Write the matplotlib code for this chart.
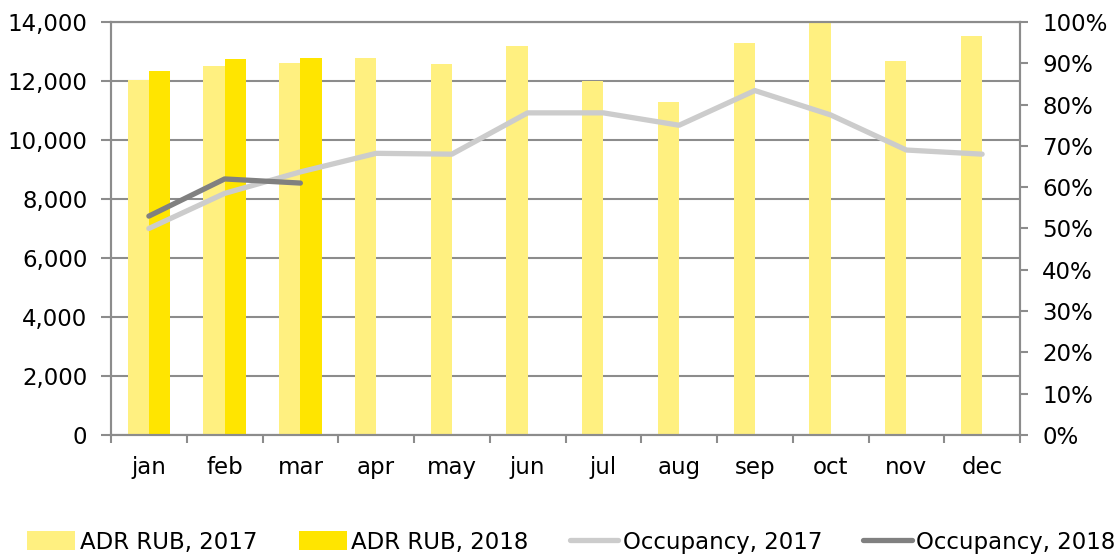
import numpy as np
import matplotlib.pyplot as plt
from matplotlib.ticker import FuncFormatter, PercentFormatter

plt.rcParams.update({
    "font.family": ["DejaVu Sans"],
    "font.size": 16.5,
})

months = ["jan", "feb", "mar", "apr", "may", "jun", "jul", "aug", "sep", "oct", "nov", "dec"]
adr_2017 = [12030, 12520, 12610, 12780, 12570, 13190, 12000, 11290, 13280, 14000, 12680, 13530]
adr_2018 = [12350, 12740, 12780]
occ_2017 = [50.0, 58.5, 63.7, 68.2, 68.0, 78.0, 78.0, 75.0, 83.4, 77.5, 69.0, 68.0]
occ_2018 = [53.0, 62.0, 61.0]

C_2017 = "#FFF080"
C_2018 = "#FFE500"
C_OCC17 = "#CCCCCC"
C_OCC18 = "#808080"
GRID = "#8C8C8C"

fig = plt.figure(figsize=(11.16, 5.57), dpi=100)
ax = fig.add_axes([111 / 1116, 1 - 435 / 557, 909 / 1116, 413 / 557])
ax2 = ax.twinx()

x = np.arange(len(months))
w = 0.28
ax.bar(x - w / 2, adr_2017, w, color=C_2017, label="ADR RUB, 2017", zorder=2)
ax.bar(x[:len(adr_2018)] + w / 2, adr_2018, w, color=C_2018, label="ADR RUB, 2018", zorder=2)

ax2.plot(x, occ_2017, color=C_OCC17, lw=3.8, solid_capstyle="round", label="Occupancy, 2017")
ax2.plot(x[:len(occ_2018)], occ_2018, color=C_OCC18, lw=3.8, solid_capstyle="round", label="Occupancy, 2018")

ax.set_xlim(-0.5, len(months) - 0.5)
ax.set_ylim(0, 14000)
ax.set_yticks(np.arange(0, 14001, 2000))
ax.yaxis.set_major_formatter(FuncFormatter(lambda v, p: f"{int(v):,}"))
ax.set_xticks(x)
ax.set_xticklabels(months)
ax.set_xticks(np.arange(-0.5, len(months), 1), minor=True)
ax.tick_params(axis="x", which="major", length=0, pad=15)
ax.tick_params(axis="x", which="minor", length=6, color=GRID, width=1.5)
ax.tick_params(axis="y", length=7, color=GRID, width=1.5, pad=10)
ax.grid(axis="y", color=GRID, lw=1.5, zorder=0)
ax.set_axisbelow(True)

ax2.set_ylim(0, 100)
ax2.set_yticks(np.arange(0, 101, 10))
ax2.yaxis.set_major_formatter(PercentFormatter(decimals=0))
ax2.tick_params(axis="y", length=6, color=GRID, width=1.5, pad=10)

for a in (ax, ax2):
    for s in a.spines.values():
        s.set_color(GRID)
        s.set_linewidth(1.5)

h1, l1 = ax.get_legend_handles_labels()
h2, l2 = ax2.get_legend_handles_labels()
fig.legend(h1 + h2, l1 + l2, loc="center", bbox_to_anchor=(0.512, 1 - 542 / 557),
           ncol=4, frameon=False, handlelength=2.1, handleheight=0.9,
           handletextpad=0.2, columnspacing=1.8, borderpad=0, fontsize=16.5)

fig.savefig("out.png", dpi=100)
